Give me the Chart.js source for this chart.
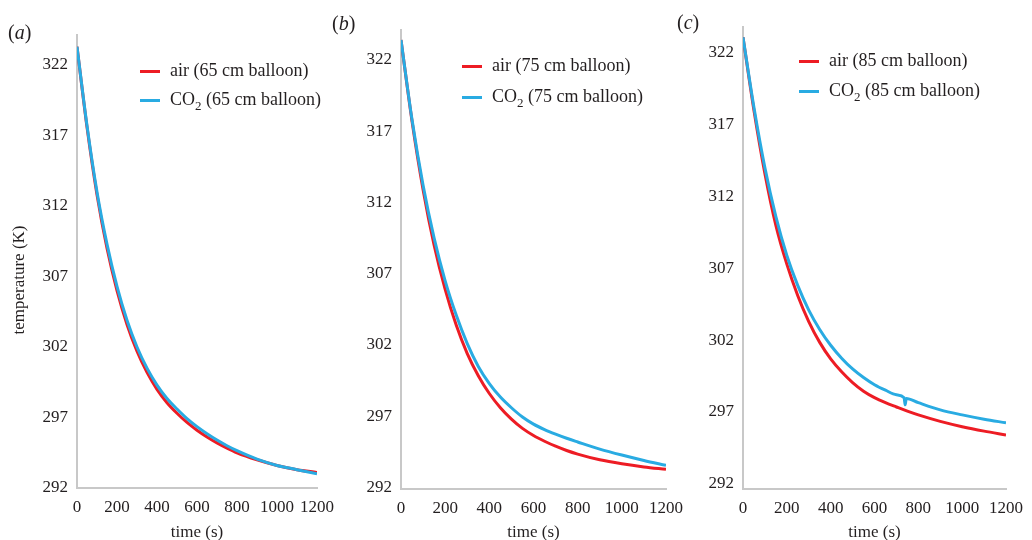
<!DOCTYPE html>
<html>
<head>
  <title>Balloon cooling curves</title>
  <script src="https://cdn.jsdelivr.net/npm/chart.js"></script>
  <style>
    body { margin: 0; background: #fff; }
    #wrap { position: relative; width: 1032px; height: 540px; font-family: "Liberation Serif", serif; color: #231f20; }
    canvas { position: absolute; left: 0; top: 0; }
    .tag { position: absolute; font-size: 20px; line-height: 20px; }
    .leg { position: absolute; font-size: 18px; line-height: 18px; white-space: nowrap; }
    .sw { display: inline-block; width: 20px; height: 3px; vertical-align: middle; margin-right: 10px; }
    .ytitle { position: absolute; font-size: 17px; line-height: 17px; white-space: nowrap; transform: translate(-50%, -50%) rotate(-90deg); }
  </style>
</head>
<body>
<div id="wrap">
  <canvas id="chartA" width="1032" height="540"></canvas>
  <canvas id="chartB" width="1032" height="540"></canvas>
  <canvas id="chartC" width="1032" height="540"></canvas>

  <div class="tag" style="left:8px; top:22px;">(<i>a</i>)</div>
  <div class="tag" style="left:332px; top:13px;">(<i>b</i>)</div>
  <div class="tag" style="left:677px; top:12px;">(<i>c</i>)</div>

  <div class="ytitle" style="left:18px; top:280px;">temperature (K)</div>

  <div class="leg" style="left:140px; top:61px;"><span class="sw" style="background:#ed1c24"></span>air (65 cm balloon)</div>
  <div class="leg" style="left:140px; top:90px;"><span class="sw" style="background:#29abe2"></span>CO<sub style="font-size:13px">2</sub> (65 cm balloon)</div>
  <div class="leg" style="left:462px; top:56px;"><span class="sw" style="background:#ed1c24"></span>air (75 cm balloon)</div>
  <div class="leg" style="left:462px; top:87px;"><span class="sw" style="background:#29abe2"></span>CO<sub style="font-size:13px">2</sub> (75 cm balloon)</div>
  <div class="leg" style="left:799px; top:51px;"><span class="sw" style="background:#ed1c24"></span>air (85 cm balloon)</div>
  <div class="leg" style="left:799px; top:81px;"><span class="sw" style="background:#29abe2"></span>CO<sub style="font-size:13px">2</sub> (85 cm balloon)</div>
</div>
<script>
  // time (s) and temperature (K)
  const timeS = [0, 50, 100, 150, 200, 250, 300, 350, 400, 450, 500, 550, 600, 650, 700, 750, 800, 900, 1000, 1100, 1200];

  const air65 = [323.3, 317.6, 312.8, 309.0, 306.0, 303.6, 301.7, 300.2, 299.0, 298.05, 297.3, 296.65, 296.1, 295.62, 295.2, 294.83, 294.5, 294.0, 293.6, 293.3, 293.1];
  const co265 = [323.3, 317.7, 313.0, 309.3, 306.3, 303.9, 302.0, 300.5, 299.3, 298.35, 297.6, 296.92, 296.35, 295.85, 295.4, 295.0, 294.65, 294.05, 293.6, 293.3, 293.0];

  const air75 = [323.4, 317.7, 312.9, 309.0, 305.9, 303.4, 301.4, 299.85, 298.6, 297.6, 296.8, 296.15, 295.65, 295.25, 294.9, 294.6, 294.35, 293.95, 293.67, 293.45, 293.28];
  const co275 = [323.4, 317.8, 313.2, 309.5, 306.5, 304.1, 302.1, 300.5, 299.3, 298.35, 297.6, 296.95, 296.45, 296.07, 295.75, 295.46, 295.2, 294.7, 294.28, 293.9, 293.56];

  const air85 = [323.1, 318.0, 313.6, 310.0, 307.3, 305.1, 303.3, 301.85, 300.7, 299.8, 299.05, 298.45, 298.0, 297.65, 297.35, 297.06, 296.8, 296.35, 295.98, 295.67, 295.4];
  const timeCO285 = [0, 50, 100, 150, 200, 250, 300, 350, 400, 450, 500, 550, 600, 650, 700, 735, 740, 745, 800, 900, 1000, 1100, 1200];
  const co285 = [323.1, 318.2, 314.0, 310.6, 307.9, 305.8, 304.1, 302.75, 301.65, 300.75, 300.0, 299.4, 298.9, 298.52, 298.2, 298.0, 297.5, 297.95, 297.65, 297.15, 296.8, 296.5, 296.25];

  const yTicks = [292, 297, 302, 307, 312, 317, 322];
  const xTicks = [0, 200, 400, 600, 800, 1000, 1200];

  const RED = '#ed1c24';
  const BLUE = '#29abe2';
  const AXIS = '#c8c8c8';
  const FONT = 'Liberation Serif';

  function pts(xs, ys) {
    return xs.map((x, i) => ({ x: x, y: ys[i] }));
  }

  function makePanel(id, box, yMin, yMax, airX, airY, co2X, co2Y) {
    const yW = 70;
    new Chart(document.getElementById(id), {
      type: 'line',
      data: {
        datasets: [
          { label: 'CO2', data: pts(co2X, co2Y), borderColor: BLUE, borderWidth: 3, pointRadius: 0, fill: false, cubicInterpolationMode: 'monotone', order: 0 },
          { label: 'air', data: pts(airX, airY), borderColor: RED, borderWidth: 3, pointRadius: 0, fill: false, cubicInterpolationMode: 'monotone', order: 1 }
        ]
      },
      options: {
        responsive: false,
        animation: false,
        events: [],
        layout: { padding: { left: box.left - yW, right: 1032 - box.right, top: box.top, bottom: 0 } },
        plugins: { legend: { display: false }, tooltip: { enabled: false } },
        scales: {
          x: {
            type: 'linear', min: 0, max: 1200,
            grid: { display: false, drawTicks: false },
            border: { display: true, color: AXIS, width: 2 },
            afterBuildTicks: s => { s.ticks = xTicks.map(v => ({ value: v })); },
            afterFit: s => { s.height = 540 - box.bottom; },
            ticks: { padding: 9, autoSkip: false, maxRotation: 0, color: '#231f20', font: { family: FONT, size: 17 }, callback: v => String(v) },
            title: { display: true, text: 'time (s)', color: '#231f20', padding: { top: 0, bottom: -1 }, font: { family: FONT, size: 17, lineHeight: 1 } }
          },
          y: {
            type: 'linear', min: yMin, max: yMax,
            grid: { display: false, drawTicks: false },
            border: { display: true, color: AXIS, width: 2 },
            afterBuildTicks: s => { s.ticks = yTicks.map(v => ({ value: v })); },
            afterFit: s => { s.width = yW; },
            ticks: { padding: 9, color: '#231f20', font: { family: FONT, size: 17 }, callback: v => String(v) }
          }
        }
      }
    });
  }

  makePanel('chartA', { left: 77, right: 317, top: 35, bottom: 488 }, 292, 324.13, timeS, air65, timeS, co265);
  makePanel('chartB', { left: 401, right: 666, top: 30, bottom: 489 }, 291.9, 324.1, timeS, air75, timeS, co275);
  makePanel('chartC', { left: 743, right: 1013, top: 27, bottom: 489 }, 291.64, 323.81, timeS, air85, timeCO285, co285);
</script>
</body>
</html>
